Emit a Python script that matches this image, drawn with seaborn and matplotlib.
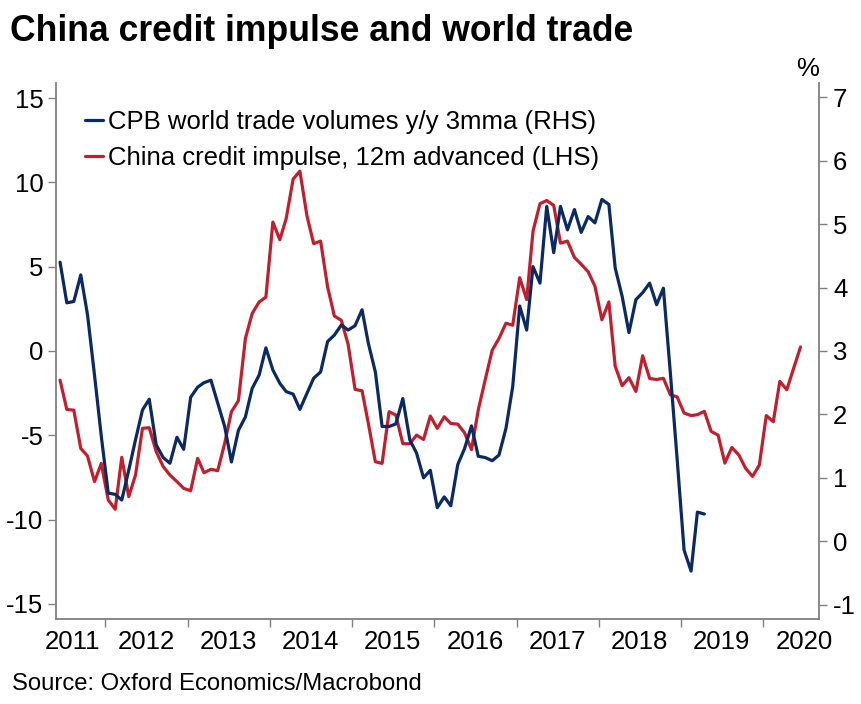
import pandas as pd
import matplotlib
matplotlib.use("Agg")
import matplotlib.pyplot as plt
import seaborn as sns

# monthly data, June 2011 onwards
trade_start = "2011-06-01"
credit_start = "2011-06-01"

# CPB world trade volumes y/y 3mma, % (RHS)
world_trade = [
    4.40, 3.76, 3.78, 4.20, 3.57, 2.62, 1.66, 0.76, 0.74, 0.65,
    1.12, 1.60, 2.07, 2.24, 1.52, 1.32, 1.23, 1.64, 1.45, 2.27,
    2.43, 2.50, 2.54, 2.18, 1.81, 1.25, 1.75, 1.96, 2.41, 2.62,
    3.05, 2.70, 2.49, 2.36, 2.32, 2.08, 2.33, 2.57, 2.67, 3.15,
    3.25, 3.41, 3.33, 3.40, 3.65, 3.12, 2.67, 1.81, 1.81, 1.85,
    2.25, 1.60, 1.39, 1.00, 1.12, 0.53, 0.70, 0.56, 1.21, 1.46,
    1.82, 1.34, 1.32, 1.27, 1.36, 1.78, 2.44, 3.71, 3.33, 4.33,
    4.07, 5.28, 4.55, 5.28, 4.91, 5.23, 4.87, 5.12, 5.02, 5.39,
    5.31, 4.31, 3.86, 3.29, 3.81, 3.92, 4.07, 3.73, 3.99, 2.65,
    1.30, -0.14, -0.47, 0.46, 0.43,
]

# China credit impulse, 12m advanced (LHS)
credit_impulse = [
    -1.73, -3.47, -3.51, -5.78, -6.23, -7.75, -6.67, -8.84, -9.39, -6.31,
    -8.64, -7.36, -4.59, -4.55, -5.97, -6.86, -7.36, -7.75, -8.15, -8.29,
    -6.37, -7.22, -7.02, -7.10, -5.48, -3.60, -2.95, 0.74, 2.22, 2.91,
    3.20, 7.65, 6.60, 7.85, 10.20, 10.67, 8.04, 6.37, 6.52, 3.80,
    2.08, 1.82, 0.40, -2.28, -2.36, -4.30, -6.57, -6.67, -3.60, -3.80,
    -5.50, -5.50, -4.99, -5.25, -3.86, -4.59, -3.90, -4.30, -4.34, -4.85,
    -5.85, -3.50, -1.70, 0.05, 0.74, 1.65, 1.53, 4.35, 3.05, 7.10,
    8.74, 8.93, 8.64, 6.40, 6.52, 5.55, 5.15, 4.70, 3.85, 1.85,
    2.91, -0.90, -2.06, -1.58, -2.40, -0.28, -1.63, -1.69, -1.62, -2.60,
    -2.72, -3.68, -3.83, -3.78, -3.58, -4.77, -4.99, -6.65, -5.72, -6.17,
    -6.96, -7.44, -6.77, -3.83, -4.20, -1.80, -2.30, -1.04, 0.24,
]

years = ["2011", "2012", "2013", "2014", "2015", "2016", "2017", "2018", "2019", "2020"]
left_ticks = [15, 10, 5, 0, -5, -10, -15]
right_ticks = [7, 6, 5, 4, 3, 2, 1, 0, -1]

title = "China credit impulse and world trade"
source = "Source: Oxford Economics/Macrobond"
trade_label = "CPB world trade volumes y/y 3mma (RHS)"
credit_label = "China credit impulse, 12m advanced (LHS)"

BLUE = "#0b2a63"
RED = "#c0202e"
SPINE = "#808080"
FS = 18.5


def build_frames():
    trade = pd.DataFrame({
        "date": pd.date_range(trade_start, periods=len(world_trade), freq="MS") + pd.Timedelta(days=14),
        "value": world_trade,
    })
    credit = pd.DataFrame({
        "date": pd.date_range(credit_start, periods=len(credit_impulse), freq="MS") + pd.Timedelta(days=14),
        "value": credit_impulse,
    })
    return trade, credit


def show_spine(ax, side):
    ax.spines[side].set_visible(True)
    ax.spines[side].set_color(SPINE)
    ax.spines[side].set_linewidth(1.3)


def draw(trade, credit):
    sns.set_style("white")
    plt.rcParams["font.family"] = ["Liberation Sans", "DejaVu Sans"]
    plt.rcParams["text.color"] = "black"
    plt.rcParams["xtick.color"] = "black"
    plt.rcParams["ytick.color"] = "black"

    fig = plt.figure(figsize=(8.61, 7.04), dpi=100)
    ax = fig.add_axes([56 / 861, 1 - 619 / 704, (819 - 56) / 861, (619 - 83) / 704])
    ax2 = ax.twinx()

    sns.lineplot(data=credit, x="date", y="value", ax=ax, color=RED, linewidth=2.3, label=credit_label, legend=False)
    sns.lineplot(data=trade, x="date", y="value", ax=ax2, color=BLUE, linewidth=2.3, label=trade_label, legend=False)

    ax.set_xlim(pd.Timestamp("2011-05-28"), pd.Timestamp("2020-09-05"))
    ax.set_ylim(-15.9, 15.9)
    ax2.set_ylim(-1.225, 7.225)

    ax.set_yticks(left_ticks)
    ax.set_yticklabels([str(t) for t in left_ticks])
    ax2.set_yticks(right_ticks)
    ax2.set_yticklabels([str(t) for t in right_ticks])

    # year boundaries as ticks, labels centred in each year
    ax.set_xticks([pd.Timestamp(f"{y}-01-01") for y in years[1:]])
    ax.set_xticklabels([])
    label_pos = [pd.Timestamp("2011-08-10")] + [pd.Timestamp(f"{y}-07-01") for y in years[1:]]
    ax.set_xticks(label_pos, minor=True)
    ax.set_xticklabels(years, minor=True)
    ax.tick_params(axis="x", which="major", length=6, width=1, color=SPINE, direction="out", bottom=True)
    ax.tick_params(axis="x", which="minor", length=0, pad=8, labelsize=FS)
    ax.tick_params(axis="y", length=6, width=1, color=SPINE, direction="out", left=True, labelsize=FS, pad=3)
    ax2.tick_params(axis="y", length=6, width=1, color=SPINE, direction="out", right=True, labelsize=FS, pad=4)

    ax.set_xlabel("")
    ax.set_ylabel("")
    ax2.set_ylabel("")
    for a in (ax, ax2):
        for s in ["top", "left", "right", "bottom"]:
            a.spines[s].set_visible(False)
    show_spine(ax, "left")
    show_spine(ax, "bottom")
    show_spine(ax2, "right")

    h1, l1 = ax2.get_legend_handles_labels()
    h2, l2 = ax.get_legend_handles_labels()
    ax2.legend(h1 + h2, l1 + l2, loc="upper left", bbox_to_anchor=(0.025, 0.969),
               frameon=False, fontsize=FS, handlelength=0.7, handletextpad=0.2,
               labelspacing=0.46, borderaxespad=0)

    fig.text(10 / 861, 1 - 41 / 704, title, fontsize=25.6, fontweight="bold", va="baseline", ha="left")
    fig.text(12 / 861, 1 - 690 / 704, source, fontsize=17.2, va="baseline", ha="left")
    fig.text(808 / 861, 1 - 76 / 704, "%", fontsize=FS, va="baseline", ha="center")

    fig.savefig("out.png", dpi=100)


def main():
    trade, credit = build_frames()
    draw(trade, credit)


if __name__ == "__main__":
    main()
